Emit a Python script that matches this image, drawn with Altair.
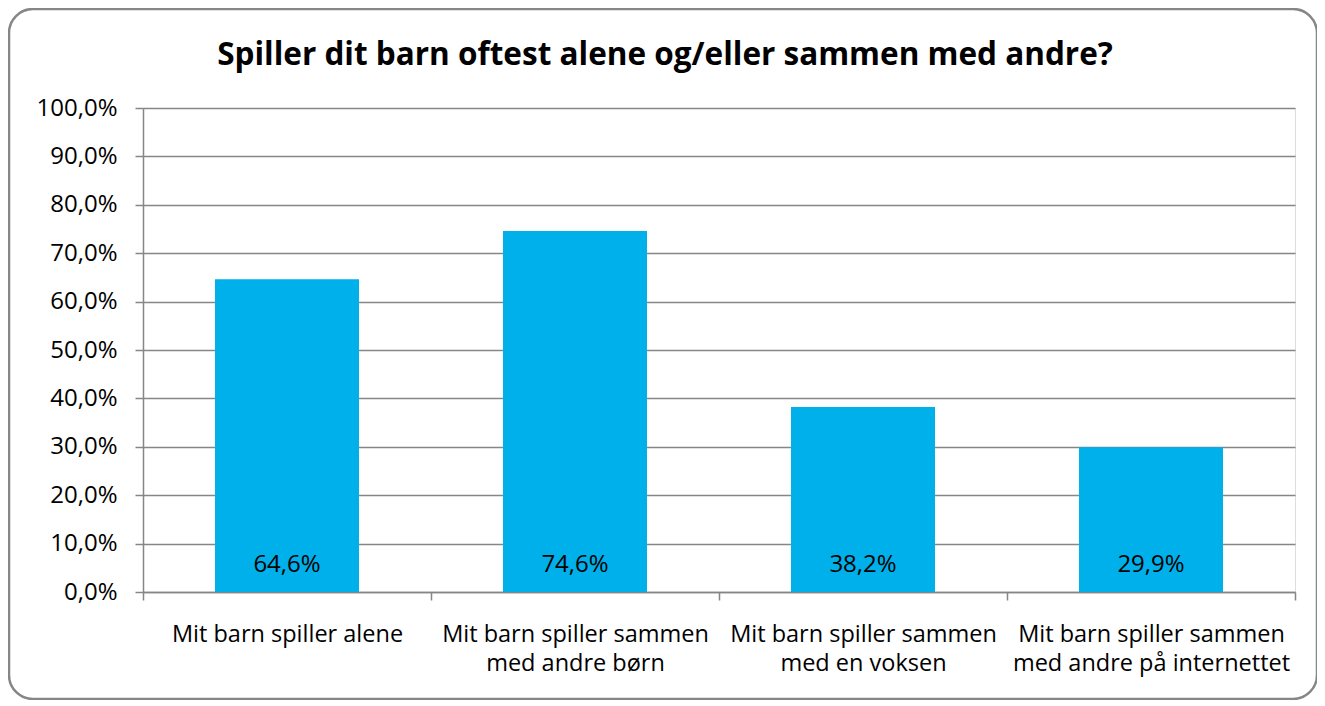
import altair as alt
import pandas as pd

categories = [
    "Mit barn spiller alene",
    "Mit barn spiller sammen\nmed andre børn",
    "Mit barn spiller sammen\nmed en voksen",
    "Mit barn spiller sammen\nmed andre på internettet",
]
values = [64.6, 74.6, 38.2, 29.9]
y_ticks = [0, 10, 20, 30, 40, 50, 60, 70, 80, 90, 100]
title_text = "Spiller dit barn oftest alene og/eller sammen med andre?"

df = pd.DataFrame({"cat": categories, "value": values})

FONT = "Open Sans"
GRAY = "#868686"
BLUE = "#00B0EA"

W, H = 1152, 484

x_enc = alt.X(
    "cat:N",
    sort=categories,
    scale=alt.Scale(paddingInner=0, paddingOuter=0),
    axis=alt.Axis(
        title=None,
        labelAngle=0,
        labelExpr="split(datum.label, '\\n')",
        labelFont=FONT,
        labelFontSize=23.5,
        labelColor="black",
        labelLineHeight=29,
        labelPadding=22,
        labelLimit=0,
        tickBand="extent",
        tickSize=8,
        tickColor=GRAY,
        tickWidth=1.5,
        domainColor=GRAY,
        domainWidth=1.5,
        grid=False,
    ),
)

y_enc = alt.Y(
    "value:Q",
    scale=alt.Scale(domain=[0, 100]),
    axis=alt.Axis(
        title=None,
        values=y_ticks,
        labelExpr="replace(format(datum.value, '.1f'), '.', ',') + '%'",
        labelFont=FONT,
        labelFontSize=24,
        labelColor="black",
        labelPadding=18,
        tickSize=8,
        tickColor=GRAY,
        tickWidth=1.5,
        domainColor=GRAY,
        domainWidth=1.5,
        gridColor=GRAY,
        gridWidth=1.5,
    ),
)

base = alt.Chart(df)

bars = base.mark_bar(color=BLUE, width=alt.RelativeBandSize(0.5)).encode(x=x_enc, y=y_enc)

labels = base.transform_calculate(
    lab="replace(format(datum.value, '.1f'), '.', ',') + '%'"
).mark_text(font=FONT, fontSize=24, color="black", baseline="alphabetic", dy=-20).encode(
    x=alt.X("cat:N", sort=categories),
    y=alt.datum(0),
    text="lab:N",
)

frame_data = alt.Data(values=[{"t": title_text}])

border = alt.Chart(frame_data).mark_rect(
    fill=None, stroke=GRAY, strokeWidth=2.5, cornerRadius=24
).encode(
    x=alt.value(-134), x2=alt.value(1174), y=alt.value(-99), y2=alt.value(591)
)

title = alt.Chart(frame_data).mark_text(
    font=FONT, fontSize=31.5, fontWeight="bold", color="black", align="center", baseline="alphabetic"
).encode(x=alt.value(522), y=alt.value(-43), text="t:N")

chart = alt.layer(bars, labels, border, title).properties(
    width=W,
    height=H,
    padding={"left": 135, "top": 100, "right": 22, "bottom": 108},
    autosize=alt.AutoSizeParams(type="none"),
).configure_view(stroke=None).configure(background="white")

chart.save("out.html", embed_options={"renderer": "svg", "actions": False})
